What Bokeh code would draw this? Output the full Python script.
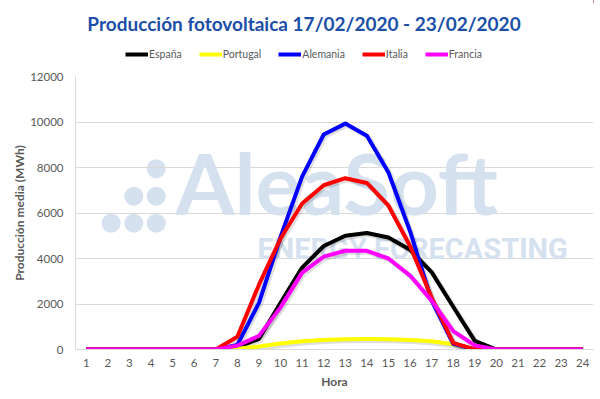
import numpy as np
from bokeh.plotting import figure
from bokeh.layouts import column
from bokeh.models import Range1d, FixedTicker, Legend, LegendItem, Label
from bokeh.embed import file_html
from bokeh.resources import INLINE

# ---- data ----
hours = list(range(1, 25))
espana = [0, 0, 0, 0, 0, 0, 0, 100, 470, 2050, 3600, 4550, 5000, 5120, 4920, 4380, 3400, 1880, 380, 0, 0, 0, 0, 0]
portugal = [0, 0, 0, 0, 0, 0, 0, 30, 130, 260, 360, 420, 450, 460, 450, 420, 360, 230, 40, 0, 0, 0, 0, 0]
alemania = [0, 0, 0, 0, 0, 0, 0, 200, 2050, 4950, 7600, 9450, 9930, 9400, 7780, 5200, 2150, 250, 0, 0, 0, 0, 0, 0]
italia = [0, 0, 0, 0, 0, 0, 0, 560, 2850, 4880, 6420, 7220, 7530, 7320, 6320, 4550, 2280, 290, 0, 0, 0, 0, 0, 0]
francia = [0, 0, 0, 0, 0, 0, 0, 170, 600, 1850, 3380, 4080, 4340, 4340, 4000, 3250, 2150, 810, 180, 0, 0, 0, 0, 0]

series_names = ["España", "Portugal", "Alemania", "Italia", "Francia"]
series_values = [espana, portugal, alemania, italia, francia]
series_colors = ["#000000", "#ffff00", "#0000ff", "#ff0000", "#ff00ff"]

y_ticks = [0, 2000, 4000, 6000, 8000, 10000, 12000]
title_text = "Producción fotovoltaica 17/02/2020 - 23/02/2020"
x_label = "Hora"
y_label = "Producción media (MWh)"

FONT = "Lato"
GRAY = "#595959"
WM = "#d6e1ef"

# ---------------- header (title + legend) ----------------
# (its frame is aligned with the main chart's frame by the column layout)
top = figure(width=594, height=68, output_backend="svg", toolbar_location=None,
             x_range=Range1d(0, 1), y_range=Range1d(-1, 0), min_border=0,
             x_axis_type=None, y_axis_type=None)
top.outline_line_color = None
top.add_layout(Label(x=228.5, y=45, x_units="screen", y_units="screen", text=title_text,
                     text_align="center", text_baseline="alphabetic", text_font=FONT,
                     text_font_size="19px", text_font_style="bold", text_color="#1b4fa8"))
items = []
for name, vals, col in zip(series_names, series_values, series_colors):
    # drawn outside this header's ranges: only the legend swatch shows
    r = top.line(hours, vals, line_color=col, line_width=4)
    items.append(LegendItem(label=name, renderers=[r]))
legend = Legend(items=items, orientation="horizontal", location=(50, 8),
                border_line_alpha=0, background_fill_alpha=0,
                label_text_font=FONT, label_text_font_size="10.5px", label_text_color=GRAY,
                glyph_width=23, glyph_height=12, label_standoff=1, spacing=17,
                padding=0, margin=0)
top.add_layout(legend, "center")

# ---------------- main chart ----------------
p = figure(width=594, height=323, output_backend="svg", toolbar_location=None,
           x_range=Range1d(0.5, 24.5), y_range=Range1d(0, 12000),
           min_border_left=75, min_border_right=1, min_border_bottom=42, min_border_top=8)
p.outline_line_color = None

p.xgrid.visible = False
p.ygrid.grid_line_color = "#d9d9d9"

p.xaxis.ticker = FixedTicker(ticks=hours)
p.yaxis.ticker = FixedTicker(ticks=y_ticks)
for ax in (p.xaxis[0], p.yaxis[0]):
    ax.axis_line_color = "#d9d9d9"
    ax.major_tick_line_color = None
    ax.minor_tick_line_color = None
    ax.major_tick_out = 0
    ax.major_tick_in = 0
    ax.minor_tick_out = 0
    ax.major_label_text_color = GRAY
    ax.major_label_text_font = FONT
    ax.major_label_text_font_size = "11.5px"
    ax.axis_label_text_font = FONT
    ax.axis_label_text_font_size = "12px"
    ax.axis_label_text_font_style = "bold"
    ax.axis_label_text_color = GRAY
p.xaxis.axis_label = x_label
p.yaxis.axis_label = y_label
p.xaxis.major_label_standoff = 9
p.xaxis.axis_label_standoff = 4
p.yaxis.major_label_standoff = 12
p.yaxis.axis_label_standoff = 0

# ---- watermark (decoration) ----
wm_dot_x = [4.24, 3.2, 4.24, 2.15, 3.2, 4.24]
wm_dot_y = [7944, 6739, 6739, 5552, 5552, 5552]
p.scatter(wm_dot_x, wm_dot_y, size=19, color=WM, line_color=None, level="underlay")
p.add_layout(Label(x=5.13, y=5100, text="AleaSoft", text_font=FONT, text_font_style="bold",
                   text_font_size="85px", text_color=WM, level="underlay"))
p.add_layout(Label(x=8.93, y=3690, text="ENERGY FORECASTING", text_font="Roboto", text_font_style="bold",
                   text_font_size="29px", text_color=WM, level="underlay"))

# soft drop shadows (derived from the series, shifted slightly right/down)
hx = np.array(hours, dtype=float)
for vals in series_values:
    p.line(hx + 0.07, np.array(vals, dtype=float) - 70, line_color="#000000",
           line_alpha=0.13, line_width=5, line_join="round")

for name, vals, col in zip(series_names, series_values, series_colors):
    p.line(hours, vals, line_color=col, line_width=4, line_join="round")

layout = column(top, p, spacing=0)
open("out.html", "w").write(file_html(layout, INLINE))
